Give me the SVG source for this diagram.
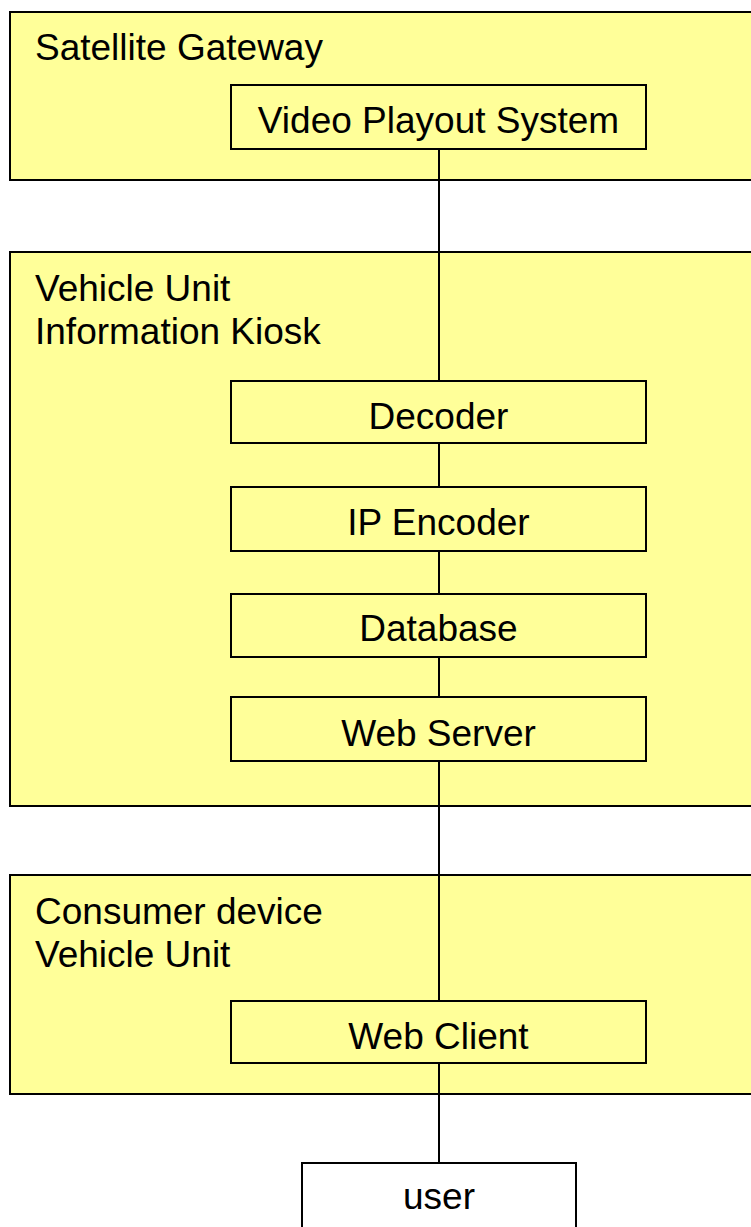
<svg xmlns="http://www.w3.org/2000/svg" width="751" height="1227" viewBox="0 0 751 1227">
<style>
.grp{fill:#FFFF99;stroke:#000;stroke-width:2}
.box{fill:#FFFF99;stroke:#000;stroke-width:2}
.ubox{fill:#FFFFFF;stroke:#000;stroke-width:2}
.t{font-family:"Liberation Sans",Arial,sans-serif;font-size:37px;fill:#000}
.c{text-anchor:middle}
.ln{stroke:#000;stroke-width:2;fill:none}
</style>
<rect width="751" height="1227" fill="#FFFFFF"/>
<g id="satellite-gateway">
<rect class="grp" x="10" y="12" width="745" height="168"/>
<text class="t" x="35" y="60">Satellite Gateway</text>
</g>
<g id="vehicle-unit-kiosk">
<rect class="grp" x="10" y="252" width="745" height="554"/>
<text class="t" x="35" y="301">Vehicle Unit</text>
<text class="t" x="35" y="344">Information Kiosk</text>
</g>
<g id="consumer-device">
<rect class="grp" x="10" y="875" width="745" height="219"/>
<text class="t" x="35" y="924">Consumer device</text>
<text class="t" x="35" y="967">Vehicle Unit</text>
</g>
<g id="connectors">
<line class="ln" x1="439" y1="149" x2="439" y2="381"/>
<line class="ln" x1="439" y1="443" x2="439" y2="487"/>
<line class="ln" x1="439" y1="551" x2="439" y2="594"/>
<line class="ln" x1="439" y1="657" x2="439" y2="697"/>
<line class="ln" x1="439" y1="761" x2="439" y2="1001"/>
<line class="ln" x1="439" y1="1063" x2="439" y2="1163"/>
</g>
<g id="video-playout-system">
<rect class="box" x="231" y="85" width="415" height="64"/>
<text class="t c" x="438.5" y="133">Video Playout System</text>
</g>
<g id="decoder">
<rect class="box" x="231" y="381" width="415" height="62"/>
<text class="t c" x="438.5" y="429">Decoder</text>
</g>
<g id="ip-encoder">
<rect class="box" x="231" y="487" width="415" height="64"/>
<text class="t c" x="438.5" y="535">IP Encoder</text>
</g>
<g id="database">
<rect class="box" x="231" y="594" width="415" height="63"/>
<text class="t c" x="438.5" y="641">Database</text>
</g>
<g id="web-server">
<rect class="box" x="231" y="697" width="415" height="64"/>
<text class="t c" x="438.5" y="746">Web Server</text>
</g>
<g id="web-client">
<rect class="box" x="231" y="1001" width="415" height="62"/>
<text class="t c" x="438.5" y="1049">Web Client</text>
</g>
<g id="user">
<rect class="ubox" x="302" y="1163" width="274" height="80"/>
<text class="t c" x="439" y="1209">user</text>
</g>
</svg>
